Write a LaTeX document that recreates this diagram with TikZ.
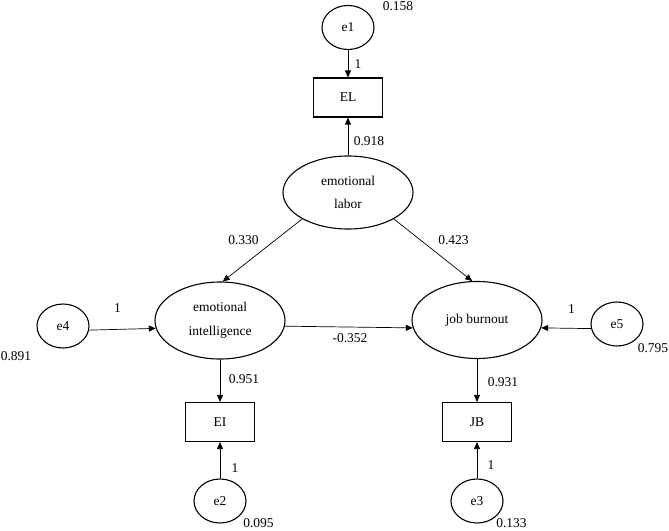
\documentclass[tikz,border=0pt]{standalone}
\usepackage{fontspec}
\setmainfont{Liberation Serif}
\usetikzlibrary{shapes.geometric,arrows.meta}
\begin{document}
\begin{tikzpicture}[x=1pt,y=-1pt,
  font=\fontsize{13.5}{23.5}\selectfont,
  lat/.style={ellipse,draw,line width=1.1pt,minimum width=130pt,minimum height=77pt,inner sep=0pt,align=center},
  err/.style={ellipse,draw,line width=1.1pt,minimum width=52pt,minimum height=44pt,inner sep=0pt},
  obs/.style={rectangle,draw,line width=1.1pt,minimum width=69pt,minimum height=39pt,inner sep=0pt},
  arr/.style={-{Triangle[length=7pt,width=6pt]},line width=0.7pt},
  lbl/.style={inner sep=0pt}]
\useasboundingbox (0,0) rectangle (669,530);
% nodes
\node[err] (e1) at (348,27.5) {e1};
\node[obs] (ELb) at (348,97.5) {EL};
\node[lat,minimum height=73pt] (lab) at (348,192.5) {emotional\\labor};
\node[lat] (ei) at (220,320.5) {emotional\\intelligence};
\node[lat] (jb) at (477,320) {job burnout};
\node[err] (e4) at (63,326) {e4};
\node[err] (e5) at (617,324) {e5};
\node[obs] (EIb) at (220,422) {EI};
\node[obs] (JBb) at (477,422) {JB};
\node[err] (e2) at (220,501) {e2};
\node[err] (e3) at (477,501) {e3};
% connectors
\draw[arr] (e1) -- (ELb);
\draw[arr] (lab) -- (ELb);
\draw[arr] (lab.210) -- (ei.86);
\draw[arr] (lab.-30) -- (jb.97);
\draw[arr] (e4.-9) -- (ei.187);
\draw[arr] (ei.-5) -- (jb.187);
\draw[arr] (e5.190) -- (jb.-7);
\draw[arr] (ei) -- (EIb);
\draw[arr] (jb) -- (JBb);
\draw[arr] (e2) -- (EIb);
\draw[arr] (e3) -- (JBb);
% labels
\node[lbl] (v1) at (398,6) {0.158};
\node[lbl] (w1) at (358,64) {1};
\node[lbl] (lEL) at (369,141) {0.918};
\node[lbl] (lA) at (243.5,240.5) {0.330};
\node[lbl] (lB) at (453.5,240.5) {0.423};
\node[lbl] (w4) at (117.5,308) {1};
\node[lbl] (v4) at (16,356) {0.891};
\node[lbl] (lC) at (350,338) {-0.352};
\node[lbl] (w5) at (571.5,309) {1};
\node[lbl] (v5) at (653,348) {0.795};
\node[lbl] (lEI) at (244,379) {0.951};
\node[lbl] (lJB) at (503,382) {0.931};
\node[lbl] (w2) at (235,468) {1};
\node[lbl] (w3) at (491,465) {1};
\node[lbl] (v2) at (258.5,523.5) {0.095};
\node[lbl] (v3) at (511.5,523.5) {0.133};
\end{tikzpicture}
\end{document}
